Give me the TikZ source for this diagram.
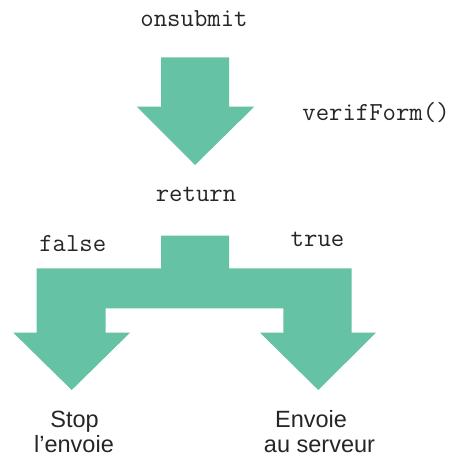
\documentclass[tikz,border=0pt]{standalone}
\usepackage{fontspec}
\setmainfont{Liberation Sans}
\definecolor{flowgreen}{RGB}{102,194,165}
\definecolor{inkgray}{RGB}{38,38,38}
\begin{document}
\begin{tikzpicture}[x=1pt,y=-1pt,
  flowshape/.style={fill=flowgreen,draw=none},
  codelabel/.style={anchor=base,inner sep=0pt,text=inkgray,font=\ttfamily\fontsize{26}{30}\selectfont},
  textlabel/.style={anchor=base,inner sep=0pt,text=inkgray,font=\fontsize{23.5}{27}\selectfont}]
\useasboundingbox (0,0) rectangle (453,457);

% single arrow: form submission calls the check
\fill[flowshape] (161,57.3) -- (229,57.3) -- (229,106.7) -- (254.3,106.7)
  -- (195,165) -- (136.7,106.7) -- (161,106.7) -- cycle;

% forked arrow: the returned value chooses a branch
\fill[flowshape] (161,235.7) -- (229,235.7) -- (229,268.3) -- (351.7,268.3)
  -- (351.7,332.7) -- (376,332.7) -- (318.3,390) -- (260,332.7) -- (283.3,332.7)
  -- (283.3,308.3) -- (105.7,308.3) -- (105.7,332.7) -- (130,332.7)
  -- (71.7,390) -- (13.3,332.7) -- (36.7,332.7) -- (36.7,268.3)
  -- (161,268.3) -- cycle;

% code labels
\node[codelabel] (onsubmit) at (194,26.5) {onsubmit};
\node[codelabel] (verif) at (376,121) {verifForm()};
\node[codelabel] (ret) at (196,201.5) {return};
\node[codelabel] (false) at (72.8,251.5) {false};
\node[codelabel] (true) at (317.5,246.5) {true};

% outcomes
\node[textlabel] (stopA) at (74.5,427) {Stop};
\node[textlabel] (stopB) at (74,452) {l’envoie};
\node[textlabel] (sendA) at (311,427) {Envoie};
\node[textlabel] (sendB) at (319.5,452) {au serveur};
\end{tikzpicture}
\end{document}
